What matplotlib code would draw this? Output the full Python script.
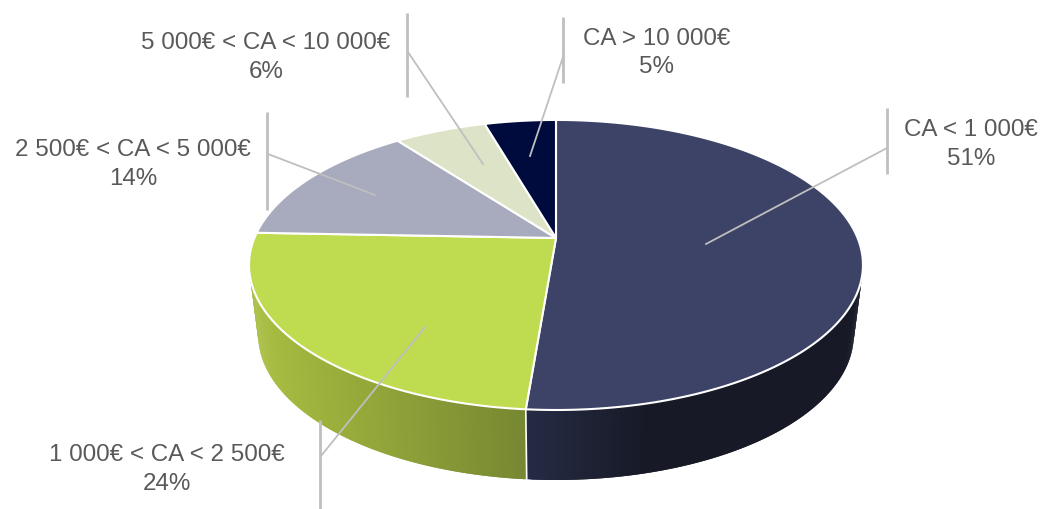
import numpy as np
import matplotlib
matplotlib.use('Agg')
from matplotlib import pyplot as plt
from matplotlib.colors import to_rgb

# Labels as printed on the chart
categories = ['CA < 1 000€', '1 000€ < CA < 2 500€', '2 500€ < CA < 5 000€',
              '5 000€ < CA < 10 000€', 'CA > 10 000€']
pct_labels = ['51%', '24%', '14%', '6%', '5%']
# Slice sizes estimated from the rim positions in the picture
slice_values = [51.3, 24.3, 14.1, 5.8, 4.5]

top_colors = ['#3D4367', '#BFDB4F', '#A7ABBD', '#DDE3C7', '#000B3D']
# Only the first two slices show a wall
side_left = ['#262B45', '#A9BF40']
side_right = ['#171A26', '#768732']
side_fade = [0.35, 1.0]

# Projection of the tilted disc, in pixels
cx, cy = 556.0, 238.0
rad_x, rad_y = 301.6, 140.0
persp = 0.186
depth = 70.0
bottom_scale = 0.97

# text centre x, first line y, second line y
label_pos = [(971, 130, 159), (167, 455, 484), (133, 150, 179),
             (266, 43, 72), (657, 39, 67)]
# vertical bar x, y0, y1, then leader end x, y on the bar and in the slice
bars = [(887, 108, 174), (320, 420, 509), (267, 112, 210), (407, 13, 97), (563, 17, 83)]
leaders = [((887, 148), (706, 244)), ((321, 456), (425, 327)), ((268, 154), (375, 195)),
           ((408, 52), (483, 164)), ((563, 57), (530, 156))]


def rim(theta):
    # theta is clockwise from the top of the pie
    d = 1 + persp * np.cos(theta)
    return cx + rad_x * np.sin(theta) / d, cy - rad_y * np.cos(theta) / d


fig = plt.figure(figsize=(10.44, 5.09), dpi=100)
ax = fig.add_axes([0, 0, 1, 1])
ax.set_xlim(0, 1044)
ax.set_ylim(509, 0)
ax.axis('off')

edges = np.cumsum([0] + slice_values) / sum(slice_values) * 2 * np.pi

# Side wall first, the top faces cover what is behind
for i in range(len(side_left)):
    t = np.linspace(edges[i], edges[i + 1], 300)
    # front part of the rim only, between the left and right extremes
    t = t[np.cos(t) < -persp]
    x, y = rim(t)
    bx = cx + (x - cx) * bottom_scale
    by = y + depth
    c0 = np.array(to_rgb(side_left[i]))
    c1 = np.array(to_rgb(side_right[i]))
    # go left to right, each strip overlaps the next one so no seams show
    order = np.argsort(x)
    for j in range(len(t) - 2):
        a, b = order[j], order[j + 2]
        f = min(1, (x[a] - x.min()) / (x.max() - x.min()) / side_fade[i])
        ax.fill([x[a], x[b], bx[b], bx[a]], [y[a], y[b], by[b], by[a]],
                color=c0 + (c1 - c0) * f, lw=0, zorder=1 + j * 1e-4)

# Divider between the two visible wall sections
fx, fy = rim(edges[1])
ax.plot([fx, cx + (fx - cx) * bottom_scale], [fy, fy + depth], color='white', lw=1.2, zorder=2)

# Top faces
for i in range(len(slice_values)):
    t = np.linspace(edges[i], edges[i + 1], 200)
    x, y = rim(t)
    ax.fill(np.r_[cx, x], np.r_[cy, y], facecolor=top_colors[i],
            edgecolor='white', lw=1.5, joinstyle='round', zorder=3)

# Leader lines and labels
for b, l in zip(bars, leaders):
    ax.plot([b[0], b[0]], [b[1], b[2]], color='#BFBFBF', lw=2.0, zorder=4, solid_capstyle='butt')
    ax.plot([l[0][0], l[1][0]], [l[0][1], l[1][1]], color='#BFBFBF', lw=1.3, zorder=4)

for name, pct, pos in zip(categories, pct_labels, label_pos):
    ax.text(pos[0], pos[1], name, ha='center', va='center', color='#595959',
            fontsize=17.33, family='Liberation Sans', zorder=5)
    ax.text(pos[0], pos[2], pct, ha='center', va='center', color='#595959',
            fontsize=17.33, family='Liberation Sans', zorder=5)

fig.savefig('out.png', dpi=100)
